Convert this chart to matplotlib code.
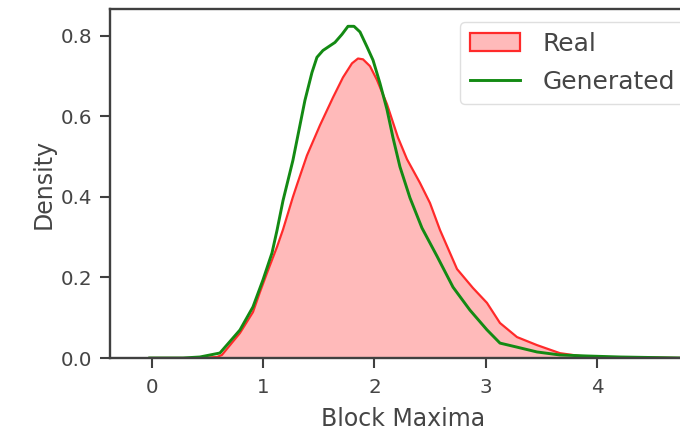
import matplotlib
matplotlib.use("Agg")
import matplotlib.pyplot as plt
from matplotlib.patches import Patch
from matplotlib.lines import Line2D

# Courbes de densite
real_x = [-0.02, 0.43, 0.584, 0.629, 0.791, 0.908, 0.971, 1.034, 1.124, 1.178,
          1.267, 1.303, 1.393, 1.510, 1.627, 1.717, 1.798, 1.852, 1.897, 1.960,
          2.022, 2.112, 2.211, 2.292, 2.409, 2.499, 2.589, 2.742, 2.885, 3.011,
          3.128, 3.281, 3.461, 3.667, 3.847, 4.027, 4.75]
real_y = [0.0, 0.0, 0.0025, 0.0075, 0.062, 0.114, 0.164, 0.211, 0.276, 0.319,
          0.400, 0.430, 0.503, 0.578, 0.647, 0.697, 0.732, 0.744, 0.742, 0.725,
          0.691, 0.631, 0.548, 0.494, 0.435, 0.385, 0.318, 0.221, 0.174, 0.137,
          0.087, 0.052, 0.032, 0.012, 0.005, 0.0025, 0.0]

gen_x = [-0.02, 0.279, 0.431, 0.611, 0.791, 0.908, 0.998, 1.079, 1.124, 1.178,
         1.267, 1.375, 1.438, 1.483, 1.537, 1.645, 1.708, 1.762, 1.816, 1.870,
         1.933, 1.987, 2.049, 2.112, 2.166, 2.229, 2.319, 2.427, 2.562, 2.706,
         2.858, 3.011, 3.128, 3.281, 3.461, 3.667, 3.910, 4.207, 4.75]
gen_y = [0.0, 0.0, 0.0025, 0.0124, 0.0696, 0.127, 0.194, 0.261, 0.317, 0.391,
         0.491, 0.640, 0.709, 0.747, 0.764, 0.784, 0.804, 0.824, 0.824, 0.810,
         0.773, 0.740, 0.683, 0.618, 0.548, 0.475, 0.398, 0.323, 0.253, 0.176,
         0.119, 0.070, 0.037, 0.027, 0.015, 0.0075, 0.005, 0.0025, 0.0]

x_ticks = [0, 1, 2, 3, 4]
y_ticks = [0.0, 0.2, 0.4, 0.6, 0.8]

TXT = "#454545"
plt.rcParams["font.family"] = "DejaVu Sans"

fig = plt.figure(figsize=(6.8, 4.36), dpi=100, facecolor="white")
# l'axe depasse a droite comme sur l'image d'origine (rognee)
ax = fig.add_axes([110 / 680, 78 / 436, 586 / 680, 349 / 436])

ax.fill_between(real_x, real_y, color="red", alpha=0.27, linewidth=0)
ax.plot(real_x, real_y, color="#ff2a2a", linewidth=1.6)
ax.plot(gen_x, gen_y, color="#138a13", linewidth=2.1)

ax.set_xlim(-0.377, 4.89)
ax.set_ylim(0, 0.867)
ax.set_xticks(x_ticks)
ax.set_yticks(y_ticks)
ax.set_yticklabels([f"{v:.1f}" for v in y_ticks])

for s in ax.spines.values():
    s.set_linewidth(1.7)
    s.set_color("#404040")
ax.tick_params(length=7.5, width=1.5, color="#404040", labelsize=14.3,
               labelcolor=TXT)
ax.tick_params(axis="x", pad=7)
ax.tick_params(axis="y", pad=5)

ax.set_xlabel("Block Maxima", fontsize=17, color=TXT, labelpad=7)
ax.set_ylabel("Density", fontsize=17, color=TXT, labelpad=4)

handles = [Patch(facecolor=(1, 0, 0, 0.27), edgecolor="#ff2a2a", linewidth=1.6),
           Line2D([], [], color="#138a13", linewidth=2.1)]
leg = ax.legend(handles, ["Real", "Generated"], loc="upper left",
                bbox_to_anchor=(350 / 586, 0.963), fontsize=18,
                frameon=True, borderaxespad=0, labelspacing=0.55,
                handlelength=2.0, handletextpad=0.9)
for t in leg.get_texts():
    t.set_color(TXT)
leg.get_frame().set_edgecolor("#d8d8d8")

fig.savefig("out.png", dpi=100, facecolor="white")
